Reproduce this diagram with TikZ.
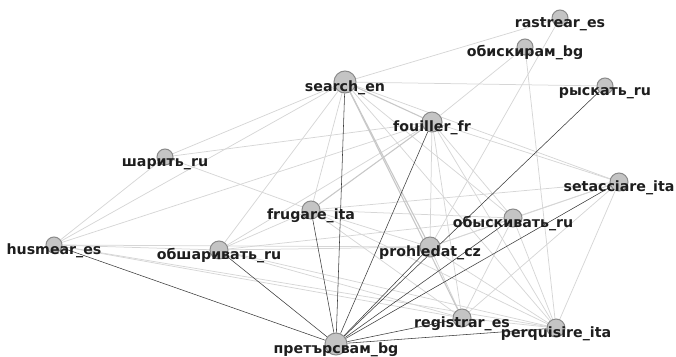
\documentclass[tikz,border=0pt]{standalone}
\usepackage{fontspec}
\setmainfont{DejaVu Sans}
\usepackage{tikz}
\usetikzlibrary{backgrounds}
\definecolor{nodec}{HTML}{C4C4C4}
\definecolor{rimc}{HTML}{8A8A8A}
\definecolor{textc}{HTML}{1E1E1E}
\definecolor{lightc}{HTML}{D6D6D6}
\definecolor{midc}{HTML}{C8C8C8}
\definecolor{darkc}{HTML}{3A3A3A}
\tikzset{
  nd/.style={circle,draw=rimc,line width=1pt,fill=nodec,inner sep=0pt},
  lb/.style={anchor=base,text=textc,inner sep=0pt,font=\bfseries\fontsize{14.2}{16}\selectfont},
  ed/.style={lightc,line width=0.75pt},
  md/.style={midc,line width=1.1pt},
  dk/.style={darkc,line width=0.55pt}
}
\begin{document}
\begin{tikzpicture}[x=1pt,y=-1pt]
\useasboundingbox (0,0) rectangle (676,356);
% word nodes
\foreach \n/\x/\y/\r in {rastrear/560/18/8,obiskiram/525/47/8,search/345/82/11,ryskat/605/86/8,
  fouiller/432/122/10,sharit/165/157/8,setacciare/619/182/9,frugare/311/210/9,obyskivat/513/218/9,
  husmear/54/245/8,obsharivat/219/250/9,prohledat/430/247/10,registrar/462/318/9,
  perquisire/556/328/9,pretarsvam/336/344/11}
  \node[nd,minimum size=2*\r] (\n) at (\x,\y) {};
% labels
\foreach \n/\t in {rastrear/rastrear\_es,obiskiram/обискирам\_bg,search/search\_en,ryskat/рыскать\_ru,
  fouiller/fouiller\_fr,sharit/шарить\_ru,setacciare/setacciare\_ita,frugare/frugare\_ita,
  obyskivat/обыскивать\_ru,husmear/husmear\_es,obsharivat/обшаривать\_ru,prohledat/prohledat\_cz,
  registrar/registrar\_es,perquisire/perquisire\_ita,pretarsvam/претърсвам\_bg}
  \node[lb] (l-\n) at ([yshift=-9pt]\n.center) {\t};
\begin{pgfonlayer}{background}
% light edges
\foreach \a/\b in {search/rastrear,search/ryskat,search/sharit,search/husmear,search/frugare,
  search/obsharivat,search/perquisire,search/obyskivat,search/setacciare,
  fouiller/obiskiram,fouiller/sharit,fouiller/husmear,fouiller/obsharivat,fouiller/prohledat,
  fouiller/obyskivat,fouiller/registrar,fouiller/perquisire,fouiller/setacciare,
  rastrear/prohledat,obiskiram/perquisire,sharit/husmear,sharit/frugare,
  frugare/obyskivat,frugare/setacciare,frugare/prohledat,frugare/registrar,frugare/perquisire,
  frugare/obsharivat,husmear/obsharivat,husmear/prohledat,husmear/registrar,husmear/perquisire,
  obsharivat/prohledat,obsharivat/obyskivat,obsharivat/registrar,obsharivat/perquisire,
  obyskivat/prohledat,obyskivat/registrar,obyskivat/perquisire,obyskivat/setacciare,
  setacciare/prohledat,setacciare/registrar,setacciare/perquisire,
  prohledat/registrar,prohledat/perquisire,registrar/perquisire}
  \draw[ed] (\a) -- (\b);
% heavier grey edges
\foreach \a/\b in {search/fouiller,fouiller/frugare,search/prohledat,search/registrar}
  \draw[md] (\a) -- (\b);
% dark edges
\foreach \b in {search,fouiller,ryskat,prohledat,obyskivat,setacciare,frugare,obsharivat,
  husmear,registrar,perquisire}
  \draw[dk] (pretarsvam) -- (\b);
\end{pgfonlayer}
\end{tikzpicture}
\end{document}
